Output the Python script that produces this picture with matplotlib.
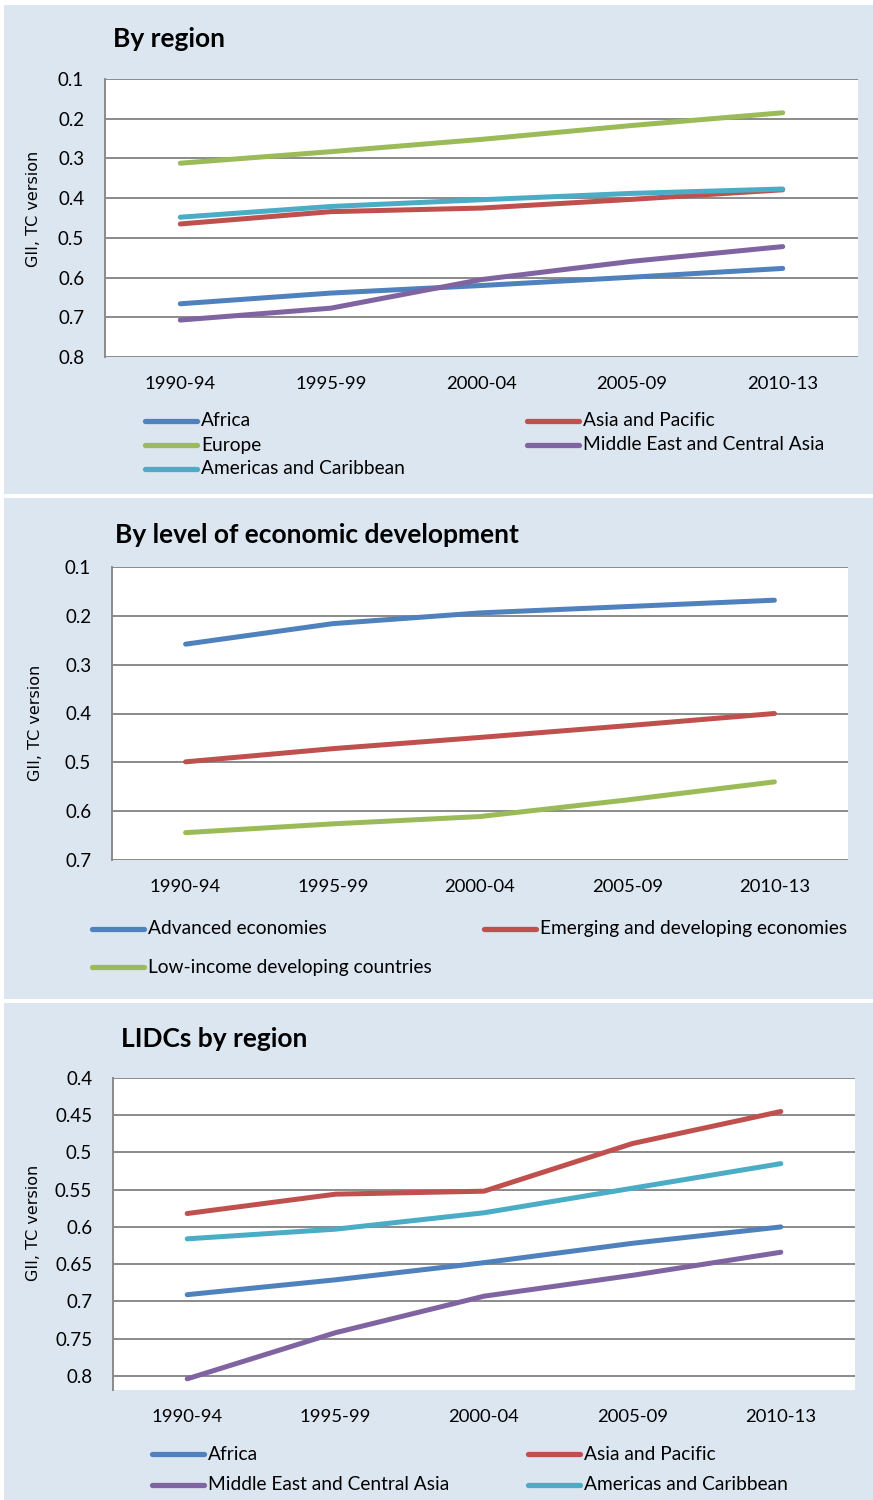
import matplotlib
matplotlib.use('Agg')
import matplotlib.pyplot as plt
from matplotlib.lines import Line2D
import numpy as np

W, H = 873, 1500

periods = ['1990-94', '1995-99', '2000-04', '2005-09', '2010-13']

# By region
reg_africa = [0.666, 0.639, 0.620, 0.599, 0.577]
reg_asia = [0.465, 0.434, 0.425, 0.403, 0.379]
reg_europe = [0.312, 0.283, 0.252, 0.217, 0.185]
reg_meca = [0.707, 0.677, 0.605, 0.559, 0.522]
reg_americas = [0.448, 0.421, 0.404, 0.388, 0.377]

# By level of economic development
dev_advanced = [0.258, 0.216, 0.194, 0.181, 0.168]
dev_emerging = [0.499, 0.472, 0.449, 0.425, 0.400]
dev_lidc = [0.644, 0.626, 0.611, 0.577, 0.540]

# LIDCs by region
lidc_africa = [0.691, 0.671, 0.648, 0.622, 0.600]
lidc_asia = [0.582, 0.556, 0.552, 0.488, 0.445]
lidc_meca = [0.804, 0.742, 0.693, 0.665, 0.634]
lidc_americas = [0.616, 0.603, 0.581, 0.548, 0.515]

BLUE = '#4F81BD'
RED = '#C0504D'
GREEN = '#9BBB59'
PURPLE = '#8064A2'
AQUA = '#4BACC6'
BG = '#DCE6F1'
GRID = '#8A8A8A'

FONT = 'Lato'

fig = plt.figure(figsize=(W / 100, H / 100), dpi=100)
fig.patch.set_facecolor('white')


def fx(x):
    return x / W


def fy(y):
    return 1 - y / H


def panel_bg(top, bottom):
    fig.add_artist(plt.Rectangle((fx(4), fy(bottom)), fx(W - 4), (bottom - top) / H,
                                 transform=fig.transFigure, facecolor=BG,
                                 edgecolor='none', zorder=-10))


def make_axes(left, right, top, bottom, ylim, yticks, ytick_labels, title, title_xy,
              ylabel_xy):
    ax = fig.add_axes([fx(left), fy(bottom), (right - left) / W, (bottom - top) / H])
    ax.set_facecolor('white')
    ax.set_xlim(-0.5, 4.5)
    ax.set_ylim(ylim[1], ylim[0])
    ax.set_yticks(yticks)
    ax.set_yticklabels(ytick_labels, fontfamily=FONT, fontsize=13.5)
    ax.set_xticks(range(len(periods)))
    ax.set_xticklabels(periods, fontfamily=FONT, fontsize=13.3)
    ax.tick_params(axis='both', length=0)
    ax.tick_params(axis='y', pad=15)
    ax.tick_params(axis='x', pad=14)
    for t in yticks:
        ax.axhline(t, color=GRID, lw=1.4, zorder=1)
    for s in ['top', 'right', 'bottom']:
        ax.spines[s].set_visible(False)
    ax.spines['left'].set_color(GRID)
    ax.spines['left'].set_linewidth(1.4)
    fig.text(fx(title_xy[0]), fy(title_xy[1]), title, fontfamily=FONT,
             fontweight='bold', fontsize=19, va='center', ha='left')
    fig.text(fx(ylabel_xy[0]), fy(ylabel_xy[1]), 'GII, TC version', rotation=90,
             fontfamily='DejaVu Sans', fontsize=11.5, va='center', ha='center')
    return ax


def legend(entries, cols_x, rows_y):
    # entries placed row by row, two per row
    for i, (label, color) in enumerate(entries):
        x0 = cols_x[i % 2]
        y0 = rows_y[i // 2]
        fig.add_artist(Line2D([fx(x0), fx(x0 + 52)], [fy(y0), fy(y0)],
                              transform=fig.transFigure, color=color, lw=3.8,
                              solid_capstyle='round'))
        fig.text(fx(x0 + 56), fy(y0), label, fontfamily=FONT, fontsize=13.8,
                 va='center', ha='left')


x = np.arange(len(periods))
LW = 3.6

# Panel 1
panel_bg(5, 494)
ax1 = make_axes(105, 858, 79, 357, (0.1, 0.8), np.arange(0.1, 0.81, 0.1),
                ['0.1', '0.2', '0.3', '0.4', '0.5', '0.6', '0.7', '0.8'],
                'By region', (113, 39), (34, 209))
s1 = [('Africa', reg_africa, BLUE), ('Asia and Pacific', reg_asia, RED),
      ('Europe', reg_europe, GREEN), ('Middle East and Central Asia', reg_meca, PURPLE),
      ('Americas and Caribbean', reg_americas, AQUA)]
for label, vals, c in s1:
    ax1.plot(x, vals, color=c, lw=LW, solid_capstyle='round', zorder=3)
legend([(l, c) for l, _, c in s1], (145, 527), (421, 445, 469))

# Panel 2
panel_bg(498, 999)
ax2 = make_axes(112, 848, 567, 860, (0.1, 0.7), np.arange(0.1, 0.71, 0.1),
                ['0.1', '0.2', '0.3', '0.4', '0.5', '0.6', '0.7'],
                'By level of economic development', (115, 535), (36, 723))
s2 = [('Advanced economies', dev_advanced, BLUE),
      ('Emerging and developing economies', dev_emerging, RED),
      ('Low-income developing countries', dev_lidc, GREEN)]
for label, vals, c in s2:
    ax2.plot(x, vals, color=c, lw=LW, solid_capstyle='round', zorder=3)
legend([(l, c) for l, _, c in s2], (92, 484), (929, 967))

# Panel 3
panel_bg(1003, 1500)
ax3 = make_axes(113, 855, 1078, 1390, (0.4, 0.819), np.arange(0.4, 0.801, 0.05),
                ['0.4', '0.45', '0.5', '0.55', '0.6', '0.65', '0.7', '0.75', '0.8'],
                'LIDCs by region', (121, 1039), (34, 1223))
s3 = [('Africa', lidc_africa, BLUE), ('Asia and Pacific', lidc_asia, RED),
      ('Middle East and Central Asia', lidc_meca, PURPLE),
      ('Americas and Caribbean', lidc_americas, AQUA)]
for label, vals, c in s3:
    ax3.plot(x, vals, color=c, lw=LW, solid_capstyle='round', zorder=3)
legend([(l, c) for l, _, c in s3], (152, 528), (1454, 1485))

fig.savefig('out.png', dpi=100)
